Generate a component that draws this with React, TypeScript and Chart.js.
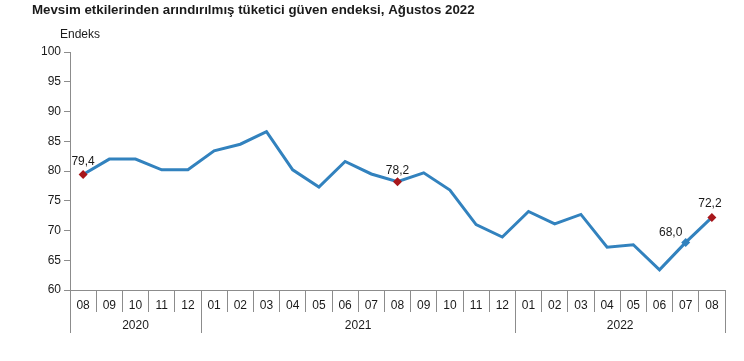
import React, { useEffect, useRef } from "react";
import { Chart, registerables } from "chart.js";

Chart.register(...registerables);

const titleText = "Mevsim etkilerinden arındırılmış tüketici güven endeksi, Ağustos 2022";
const yAxisTitle = "Endeks";
const months = ["08","09","10","11","12","01","02","03","04","05","06","07","08","09","10","11","12","01","02","03","04","05","06","07","08"];
const years = ["2020", "2021", "2022"];
const yearStartIndex = [0, 5, 17];
const values = [79.4, 82.0, 82.0, 80.2, 80.2, 83.4, 84.5, 86.6, 80.2, 77.3, 81.6, 79.5, 78.2, 79.7, 76.8, 71.0, 68.9, 73.2, 71.1, 72.7, 67.2, 67.6, 63.4, 68.0, 72.2];
const labelledIndex = [0, 12, 23, 24];
const labelText = ["79,4", "78,2", "68,0", "72,2"];
const yTicks = { min: 60, max: 100, step: 5 };

const FONT = "'Liberation Sans', Arial, sans-serif";
const LINE = "#3282BE";
const RED = "#A8171B";
const AXIS = "#8c8c8c";
const TEXT = "#1a1a1a";

export default function App() {
  const ref = useRef<HTMLCanvasElement>(null);
  useEffect(() => {
    if (!ref.current) return;
    const n = values.length;
    const pointRadius = values.map((_, i) => (labelledIndex.includes(i) ? 4.5 : 0));
    const pointColor = values.map((_, i) => (i === 23 ? LINE : RED));
    const labelOffsets: Record<number, [number, number]> = { 0: [0, -13], 12: [0, -11], 23: [-15, -10], 24: [-2, -14] };

    const overlay = {
      id: "overlay",
      afterDraw(chart: any) {
        const ctx = chart.ctx;
        const xs = chart.scales.x;
        ctx.save();
        ctx.fillStyle = TEXT;
        ctx.font = `bold 13.3px ${FONT}`;
        ctx.textAlign = "left";
        ctx.textBaseline = "middle";
        ctx.fillText(titleText, 32, 10);
        ctx.font = `12px ${FONT}`;
        ctx.fillText(yAxisTitle, 60, 35);
        const bound = (i: number) => {
          if (i <= 0) return xs.left;
          if (i >= n) return xs.right;
          return (xs.getPixelForValue(i - 1) + xs.getPixelForValue(i)) / 2;
        };
        ctx.strokeStyle = AXIS;
        ctx.lineWidth = 1;
        const seps = [...yearStartIndex, n];
        seps.forEach((i) => {
          const x = Math.round(bound(i)) + 0.5;
          ctx.beginPath();
          ctx.moveTo(x, xs.top);
          ctx.lineTo(x, xs.top + 43);
          ctx.stroke();
        });
        ctx.textAlign = "center";
        ctx.font = `12px ${FONT}`;
        years.forEach((y, k) => {
          const a = bound(yearStartIndex[k]);
          const b = bound(k + 1 < yearStartIndex.length ? yearStartIndex[k + 1] : n);
          ctx.fillText(y, (a + b) / 2, xs.top + 36);
        });
        const meta = chart.getDatasetMeta(0);
        labelledIndex.forEach((idx, k) => {
          const el = meta.data[idx];
          const off = labelOffsets[idx] || [0, -12];
          ctx.fillText(labelText[k], el.x + off[0], el.y + off[1]);
        });
        ctx.restore();
      },
    };

    const chart = new Chart(ref.current, {
      type: "line",
      data: {
        labels: months,
        datasets: [
          {
            data: values,
            borderColor: LINE,
            borderWidth: 3,
            tension: 0,
            pointStyle: "rectRot",
            pointRadius,
            pointBackgroundColor: pointColor,
            pointBorderColor: pointColor,
            pointBorderWidth: 0,
            pointHoverRadius: pointRadius,
          },
        ],
      },
      options: {
        animation: false,
        responsive: false,
        events: [],
        layout: { padding: { left: 0, right: 19, top: 52, bottom: 0 } },
        plugins: { legend: { display: false }, tooltip: { enabled: false }, title: { display: false } },
        scales: {
          x: {
            offset: true,
            grid: { offset: true, drawOnChartArea: false, tickLength: 22, color: AXIS },
            border: { color: AXIS },
            ticks: { color: TEXT, font: { family: FONT, size: 12 }, padding: -14, maxRotation: 0, autoSkip: false },
            afterFit(scale: any) { scale.height = 71; },
          },
          y: {
            min: yTicks.min,
            max: yTicks.max,
            ticks: { stepSize: yTicks.step, color: TEXT, font: { family: FONT, size: 12 }, padding: 3 },
            grid: { drawOnChartArea: false, tickLength: 6, color: AXIS },
            border: { color: AXIS },
            afterFit(scale: any) { scale.width = 70; },
          },
        },
      },
      plugins: [overlay],
    });
    return () => chart.destroy();
  }, []);

  return (
    <div style={{ position: "fixed", left: 0, top: 0, width: 744, height: 361, background: "#fff" }}>
      <canvas ref={ref} width={744} height={361} style={{ width: 744, height: 361 }} />
    </div>
  );
}
